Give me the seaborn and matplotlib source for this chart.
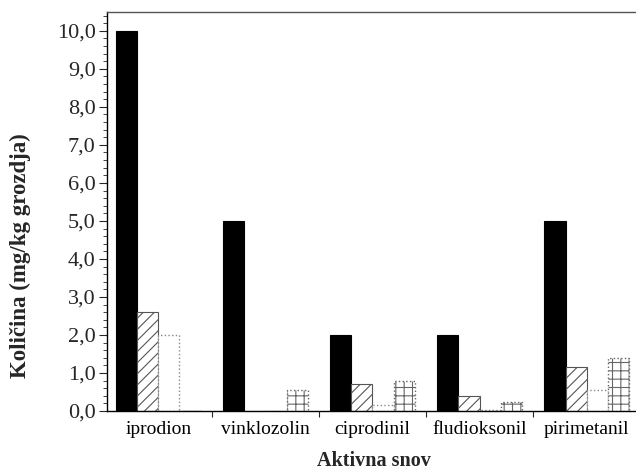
import matplotlib
matplotlib.use("Agg")
import matplotlib.pyplot as plt
from matplotlib.ticker import MultipleLocator, FuncFormatter
import seaborn as sns
import pandas as pd

categories = ["iprodion", "vinklozolin", "ciprodinil", "fludioksonil", "pirimetanil"]
series_names = ["Serija 1", "Serija 2", "Serija 3", "Serija 4"]
serija_1 = [10.0, 5.0, 2.0, 2.0, 5.0]
serija_2 = [2.6, 0.0, 0.7, 0.4, 1.15]
serija_3 = [2.0, 0.0, 0.17, 0.03, 0.55]
serija_4 = [0.0, 0.55, 0.8, 0.25, 1.4]

rows = []
for name, vals in zip(series_names, [serija_1, serija_2, serija_3, serija_4]):
    for c, v in zip(categories, vals):
        rows.append({"snov": c, "serija": name, "kolicina": v})
df = pd.DataFrame(rows)

sns.set_theme(style="ticks")
plt.rcParams["font.family"] = ["Liberation Serif", "DejaVu Serif"]
plt.rcParams["hatch.linewidth"] = 0.8

fig = plt.figure(figsize=(6.36, 4.73), dpi=100)
ax = fig.add_axes([0.168, 0.131, 0.832, 0.844])

palette = {series_names[0]: "black", series_names[1]: "white",
           series_names[2]: "white", series_names[3]: "white"}
sns.barplot(data=df, x="snov", y="kolicina", hue="serija", order=categories,
            hue_order=series_names, palette=palette, width=0.79, gap=0,
            saturation=1, legend=False, errorbar=None, ax=ax)

styles = [
    dict(edgecolor="black", hatch=None, ls="-", lw=0.8),
    dict(edgecolor="#555555", hatch="///", ls="-", lw=0.8),
    dict(edgecolor="#888888", hatch=None, ls=":", lw=1.0),
    dict(edgecolor="#666666", hatch="++", ls=":", lw=1.0),
]
for cont, st in zip(ax.containers, styles):
    for bar in cont:
        bar.set_edgecolor(st["edgecolor"])
        bar.set_linestyle(st["ls"])
        bar.set_linewidth(st["lw"])
        if st["hatch"]:
            bar.set_hatch(st["hatch"])

ax.set_ylim(0, 10.5)
ax.set_xlim(-0.48, 4.46)
ax.yaxis.set_major_locator(MultipleLocator(1.0))
ax.yaxis.set_minor_locator(MultipleLocator(0.2))
ax.yaxis.set_major_formatter(FuncFormatter(lambda v, p: f"{v:.1f}".replace(".", ",")))

ax.set_xticks(range(len(categories)))
ax.set_xticklabels(categories)
ax.set_xticks([0.5, 1.5, 2.5, 3.5], minor=True)
ax.tick_params(axis="x", which="major", length=0, labelsize=14, pad=7, colors="black")
ax.tick_params(axis="x", which="minor", length=4, width=0.8, direction="out")
ax.tick_params(axis="y", which="major", length=6, width=0.8, direction="out", labelsize=16, pad=2)
ax.tick_params(axis="y", which="minor", length=3, width=0.6, direction="out")

for s in ["left", "bottom"]:
    ax.spines[s].set_color("black")
    ax.spines[s].set_linewidth(1.0)
ax.spines["top"].set_color("#555555")
ax.spines["top"].set_linewidth(1.0)
ax.spines["right"].set_visible(False)

ax.set_xlabel("Aktivna snov", fontsize=14.5, fontweight="bold")
ax.set_ylabel("Količina (mg/kg grozdja)", fontsize=16.5, fontweight="bold")
ax.xaxis.set_label_coords(0.504, -0.1)
ax.yaxis.set_label_coords(-0.143, 0.39)

fig.savefig("out.png", dpi=100, facecolor="white")
